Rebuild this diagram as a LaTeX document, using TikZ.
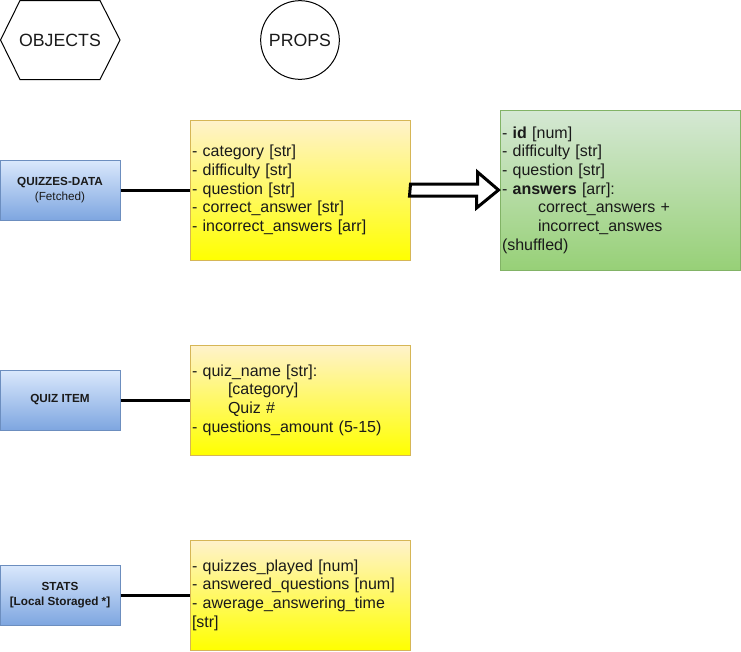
\documentclass[tikz,border=0pt]{standalone}
\usepackage{fontspec}
\setmainfont{Liberation Sans}
\usetikzlibrary{calc}
\definecolor{bluetop}{HTML}{DAE8FC}
\definecolor{bluebot}{HTML}{7EA6E0}
\definecolor{blueline}{HTML}{6C8EBF}
\definecolor{yeltop}{HTML}{FFF2CC}
\definecolor{yelbot}{HTML}{FFFF00}
\definecolor{yelline}{HTML}{D6B656}
\definecolor{grntop}{HTML}{D5E8D4}
\definecolor{grnbot}{HTML}{97D077}
\definecolor{grnline}{HTML}{82B366}
\definecolor{txt}{HTML}{1A1A1A}
\newcommand{\ind}{\hspace*{27pt}}
\tikzset{
  header/.style={font=\fontsize{13.3}{16}\selectfont, text=txt},
  objbox/.style={draw=blueline, line width=0.75pt, top color=bluetop, bottom color=bluebot,
    minimum width=90pt, minimum height=45pt, inner sep=0pt, align=center,
    font=\fontsize{8.8}{11.8}\selectfont, text=txt},
  propbox/.style={draw=yelline, line width=0.75pt, top color=yeltop, bottom color=yelbot,
    text width=162pt, inner xsep=1.5pt, inner ysep=0pt, minimum height=105pt, align=left,
    font=\fontsize{12}{14}\selectfont, text=txt},
  resbox/.style={draw=grnline, line width=0.75pt, top color=grntop, bottom color=grnbot,
    text width=177pt, inner xsep=1.5pt, inner ysep=0pt, minimum height=120pt, align=left,
    font=\fontsize{12}{14}\selectfont, text=txt},
  conn/.style={line width=2.25pt},
  blockarrow/.style={draw=black, fill=white, line width=2.25pt, line join=miter},
}
\begin{document}
\begin{tikzpicture}[x=0.75pt, y=-0.75pt]
\useasboundingbox (0,0) rectangle (741,651);
% headers
\draw[line width=0.75pt] (20,0.5) -- (100,0.5) -- (120,40) -- (100,79.5) -- (20,79.5) -- (0.5,40) -- cycle;
\node[header] (objects) at (60,40) {OBJECTS};
\node[header, draw, circle, minimum size=59pt, inner sep=0pt, line width=0.75pt] (props) at (300,40) {PROPS};
% object boxes
\node[objbox] (qd) at (60,190) {\textbf{QUIZZES-DATA}\\(Fetched)};
\node[objbox] (qi) at (60,400) {\textbf{QUIZ ITEM}};
\node[objbox] (st) at (60,595) {\textbf{STATS}\\\textbf{[Local Storaged *]}};
% prop boxes
\node[propbox] (y1) at (300,190) {- category [str]\\- difficulty [str]\\- question [str]\\- correct\_answer [str]\\- incorrect\_answers [arr]};
\node[propbox, minimum height=82.5pt] (y2) at (300,400) {- quiz\_name [str]:\\\ind[category]\\\ind Quiz \#\\- questions\_amount (5-15)};
\node[propbox, minimum height=82.5pt] (y3) at (300,595) {- quizzes\_played [num]\\- answered\_questions [num]\\- awerage\_answering\_time\\{}[str]};
% result box
\node[resbox] (g) at (620,190) {- \textbf{id} [num]\\- difficulty [str]\\- question [str]\\- \textbf{answers} [arr]:\\\ind correct\_answers +\\\ind incorrect\_answes\\(shuffled)};
% connectors
\draw[conn] (qd.east) -- (y1.west);
\draw[conn] (qi.east) -- (y2.west);
\draw[conn] (st.east) -- (y3.west);
% block arrow
\draw[blockarrow] (y1.east) ++(0,-6) -- ++(67,0) -- ++(0,-12) -- ($(g.west)+(-1,0)$) -- ++(-22,18) -- ++(0,-12) -- ++(-67,0) -- cycle;
\end{tikzpicture}
\end{document}
